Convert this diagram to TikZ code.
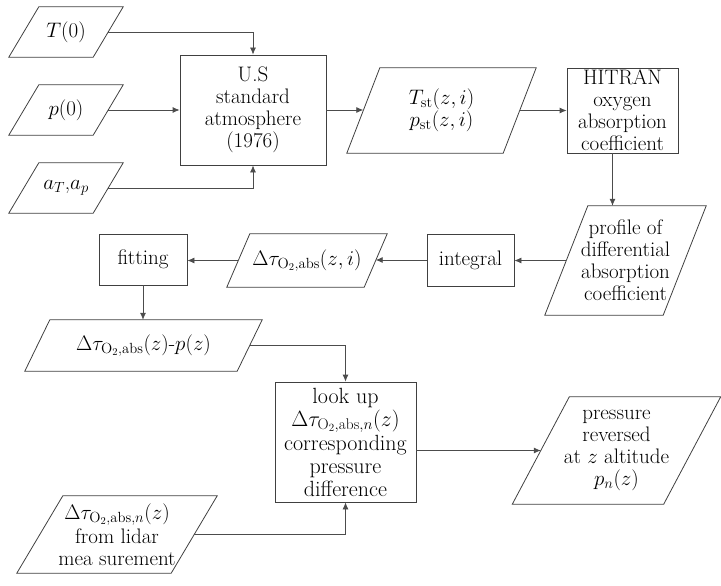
\RequirePackage{fix-cm}
\documentclass[tikz,border=0pt]{standalone}
\usepackage{fontspec}
\usetikzlibrary{calc,arrows.meta}
\newcommand\fs{\fontsize{21}{22}\selectfont}
\newcommand\fsl{\fontsize{22}{23}\selectfont}
\tikzset{
  box/.style={draw=black!75, line width=0.8pt, inner sep=0pt, align=center, font=\fs},
  pbox/.style={inner sep=0pt, align=center, font=\fs},
  arr/.style={draw=black!70, line width=0.8pt, -{Latex[length=7pt,width=6pt]}},
  pline/.style={draw=black!75, line width=0.8pt},
}
\newcommand\drawpara[2]{\draw[pline] ($(#1.south west)+(-#2pt,0)$) -- ($(#1.south east)+(-#2pt,0)$) -- ($(#1.north east)+(#2pt,0)$) -- ($(#1.north west)+(#2pt,0)$) -- cycle;}
\begin{document}
\begin{tikzpicture}[x=1pt,y=-1pt]
\useasboundingbox (0,0) rectangle (721,586);
% parallelograms
\node[pbox, minimum width=84pt, minimum height=50pt] (T0) at (66,32) {$T(0)$};
\node[pbox, minimum width=84pt, minimum height=50pt] (p0) at (66,110) {$p(0)$};
\node[pbox, minimum width=84pt, minimum height=50pt] (aTp) at (66,188) {$a_T$,$a_p$};
\node[pbox, minimum width=156pt, minimum height=85pt] (Tst) at (441.5,110.5) {$T_{\mathrm{st}}(z,i)$\\$p_{\mathrm{st}}(z,i)$};
\node[pbox, minimum width=118pt, minimum height=109pt] (prof) at (625.5,260.5) {profile of\\differential\\absorption\\coefficient};
\node[pbox, minimum width=137pt, minimum height=53pt] (dtau) at (307,260.5) {$\Delta\tau_{\mathrm{O_2,abs}}(z,i)$};
\node[pbox, minimum width=212pt, minimum height=51pt] (dtp) at (143.5,345.5) {$\Delta\tau_{\mathrm{O_2,abs}}(z)$-$p(z)$};
\node[pbox, minimum width=154pt, minimum height=77pt] (lidar) at (117,534.5) {$\Delta\tau_{\mathrm{O_2,abs},n}(z)$\\[2pt]from lidar\\mea surement};
\node[pbox, minimum width=151pt, minimum height=107pt] (pres) at (616.5,450.5) {pressure\\reversed\\at $z$ altitude\\$p_n(z)$};
\drawpara{T0}{15}
\drawpara{p0}{15}
\drawpara{aTp}{15}
\drawpara{Tst}{16.5}
\drawpara{prof}{21.5}
\drawpara{dtau}{11.5}
\drawpara{dtp}{12.5}
\drawpara{lidar}{23}
\drawpara{pres}{28.5}
% boxes
\node[box, minimum width=146pt, minimum height=110pt] (US) at (253,110) {U.S\\standard\\atmosphere\\(1976)};
\node[box, minimum width=111pt, minimum height=85pt] (HIT) at (622.5,110.5) {HITRAN\\oxygen\\absorption\\coefficient};
\node[box, minimum width=87pt, minimum height=52pt] (integ) at (470.5,260) {integral};
\node[box, minimum width=88pt, minimum height=51pt] (fit) at (143,259.5) {fitting};
\node[box, font=\fsl, minimum width=141pt, minimum height=120pt] (look) at (345.5,442) {look up\\$\Delta\tau_{\mathrm{O_2,abs},n}(z)$\\[1pt]corresponding\\pressure\\difference};
% connectors
\draw[arr] (T0.east) -| (US.north);
\draw[arr] (p0.east) -- (US.west);
\draw[arr] (aTp.east) -| (US.south);
\draw[arr] (US.east) -- (Tst.west |- US.east);
\draw[arr] (Tst.east) -- (HIT.west);
\draw[arr] ([xshift=-10pt]HIT.south) -- ([xshift=-10pt]HIT.south |- prof.north);
\draw[arr] (prof.west) -- (integ.east |- prof.west);
\draw[arr] (integ.west) -- (dtau.east |- integ.west);
\draw[arr] (dtau.west) -- (fit.east |- dtau.west);
\draw[arr] (fit.south) -- (fit.south |- dtp.north);
\draw[arr] (dtp.east) -| (look.north);
\draw[arr] (lidar.east) -| (look.south);
\draw[arr] (look.east |- pres.west) -- (pres.west);
\end{tikzpicture}
\end{document}
